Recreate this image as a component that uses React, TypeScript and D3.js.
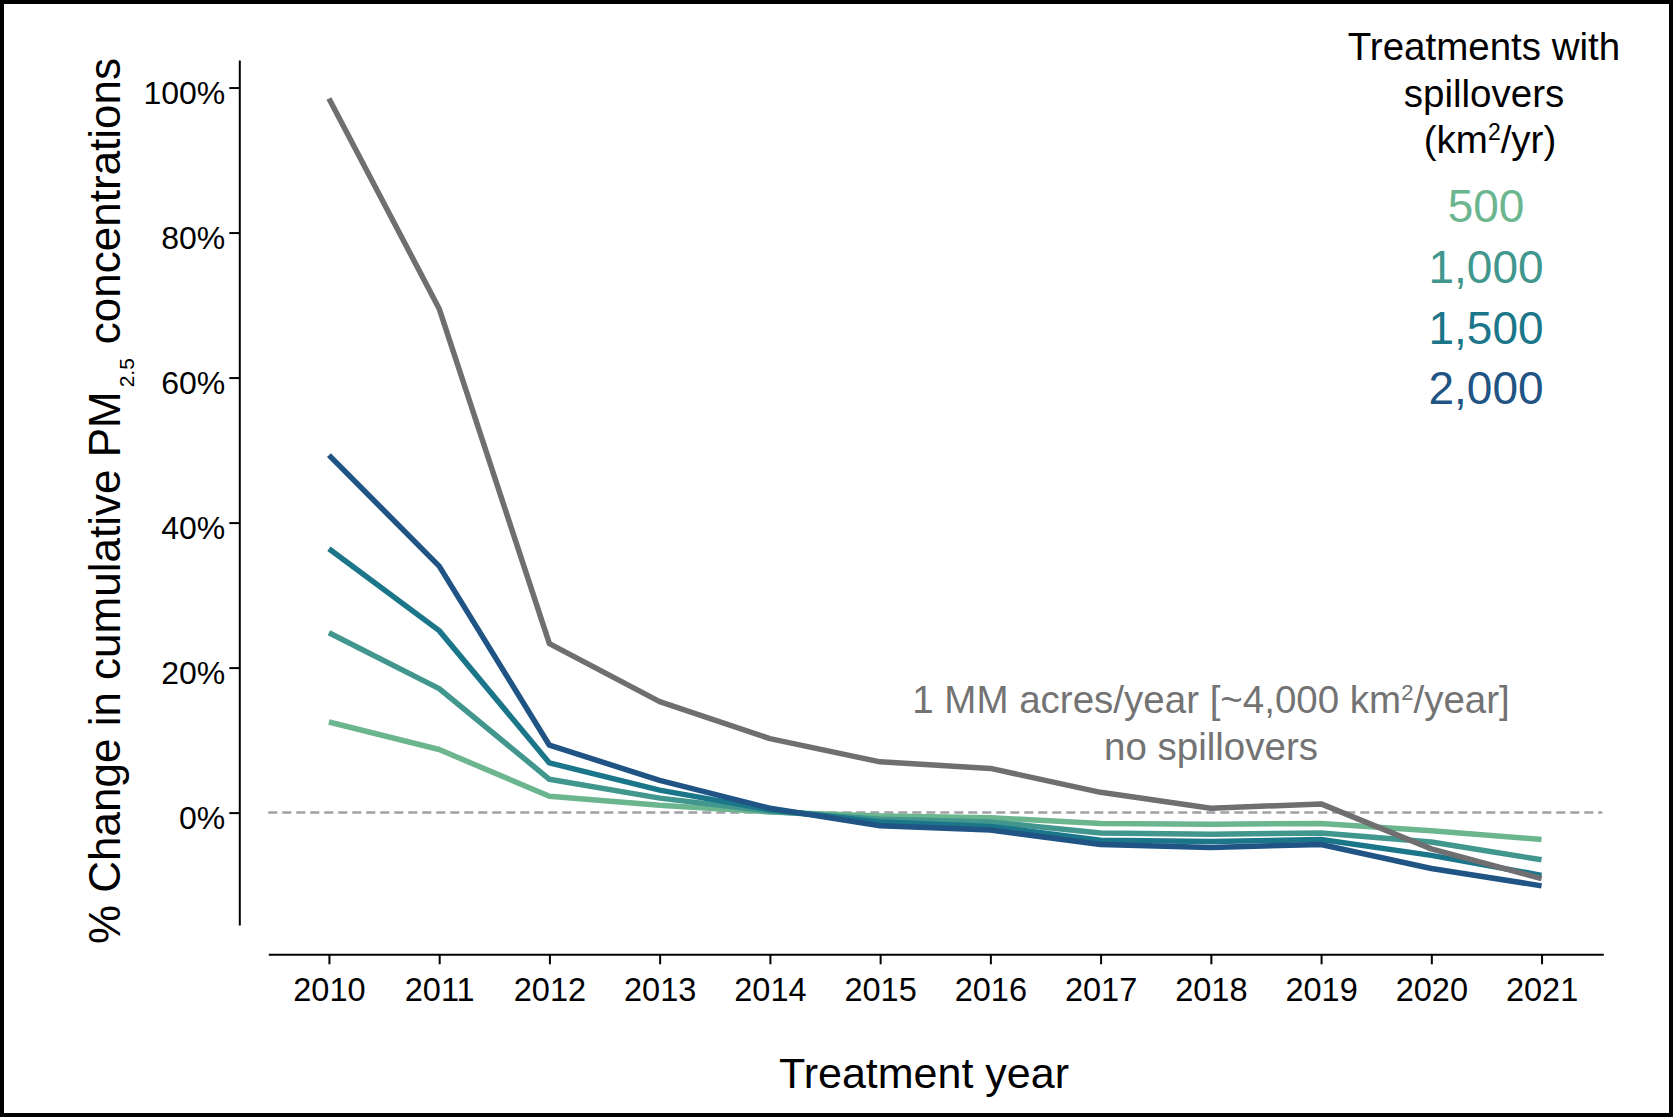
import * as d3 from 'd3';
import { useEffect, useRef } from 'react';

// treatment years on the x axis
const years = [2010, 2011, 2012, 2013, 2014, 2015, 2016, 2017, 2018, 2019, 2020, 2021];

// % change in cumulative PM2.5
const spill500 = [12.5, 8.7, 2.25, 1.0, 0.1, -0.45, -0.7, -1.5, -1.6, -1.5, -2.5, -3.7];
const spill1000 = [24.8, 17.1, 4.6, 2.0, 0.2, -0.9, -1.3, -2.8, -3.0, -2.8, -4.05, -6.5];
const spill1500 = [36.4, 25.1, 6.85, 3.1, 0.4, -1.3, -1.9, -3.8, -4.0, -3.7, -5.9, -8.65];
const spill2000 = [49.3, 34.0, 9.3, 4.45, 0.6, -1.8, -2.4, -4.4, -4.8, -4.4, -7.7, -10.1];
const noSpill = [98.5, 69.5, 23.3, 15.3, 10.2, 7.0, 6.1, 2.8, 0.6, 1.2, -5.0, -9.1];

const legendLabels = ['500', '1,000', '1,500', '2,000'];
const legendColors = ['#6bb58f', '#41968e', '#1b7689', '#1f5484'];
const yTicks = [0, 20, 40, 60, 80, 100];

const FONT = '"Liberation Sans", Arial, Helvetica, sans-serif';

export default function App() {
    const ref = useRef<any>(null);

    useEffect(() => {
        const width = 1673;
        const height = 1117;
        const svg = d3.select<any, any>(ref.current)
            .attr('width', width)
            .attr('height', height);
        svg.selectAll('*').remove();

        svg.append('rect')
            .attr('x', 0).attr('y', 0)
            .attr('width', width).attr('height', height)
            .attr('fill', 'white');

        const xScale = d3.scaleLinear().domain([2009.45, 2021.56]).range([268.3, 1603.3]);
        const yScale = d3.scaleLinear().domain([-15.5, 103.8]).range([925, 60]);

        // y axis
        const yAxis = d3.axisLeft(yScale)
            .tickValues(yTicks)
            .tickSize(10)
            .tickSizeOuter(0)
            .tickPadding(4)
            .tickFormat((d: any) => `${d}%`);
        svg.append('g')
            .attr('transform', `translate(${xScale.range()[0] - 29}, 0)`)
            .call(yAxis)
            .call((g) => {
                g.select('.domain').attr('stroke', '#000').attr('stroke-width', 2);
                g.selectAll('.tick line').attr('stroke', '#000').attr('stroke-width', 2);
                g.selectAll('.tick text')
                    .attr('dy', 16)
                    .attr('fill', '#000')
                    .style('font-family', FONT)
                    .style('font-size', '32px');
            });

        // x axis
        const xAxis = d3.axisBottom(xScale)
            .tickValues(years)
            .tickSize(10)
            .tickSizeOuter(0)
            .tickFormat((d: any) => `${d}`);
        svg.append('g')
            .attr('transform', `translate(0, ${yScale.range()[0] + 29.3})`)
            .call(xAxis)
            .call((g) => {
                g.select('.domain').attr('stroke', '#000').attr('stroke-width', 2);
                g.selectAll('.tick line').attr('stroke', '#000').attr('stroke-width', 2);
                g.selectAll('.tick text')
                    .attr('y', 47)
                    .attr('dy', 0)
                    .attr('fill', '#000')
                    .style('font-family', FONT)
                    .style('font-size', '32.5px');
            });

        // zero reference line
        svg.append('line')
            .attr('x1', xScale.range()[0])
            .attr('x2', xScale.range()[1] - 1)
            .attr('y1', yScale(0))
            .attr('y2', yScale(0))
            .attr('stroke', '#a0a0a5')
            .attr('stroke-width', 2.5)
            .attr('stroke-dasharray', '9,5');

        const line = d3.line<number>()
            .x((d, i) => xScale(years[i]))
            .y((d) => yScale(d));

        const series = [spill500, spill1000, spill1500, spill2000];
        series.forEach((s, i) => {
            svg.append('path')
                .datum(s)
                .attr('d', line)
                .attr('fill', 'none')
                .attr('stroke', legendColors[i])
                .attr('stroke-width', 5.5)
                .attr('stroke-linejoin', 'round');
        });
        svg.append('path')
            .datum(noSpill)
            .attr('d', line)
            .attr('fill', 'none')
            .attr('stroke', '#6f6f71')
            .attr('stroke-width', 5.5)
            .attr('stroke-linejoin', 'round');

        // axis titles
        svg.append('text')
            .attr('x', 924)
            .attr('y', 1088)
            .attr('text-anchor', 'middle')
            .style('font-family', FONT)
            .style('font-size', '43px')
            .attr('fill', '#000')
            .text('Treatment year');

        const yTitle = svg.append('text')
            .attr('transform', 'translate(120, 501) rotate(-90)')
            .attr('text-anchor', 'middle')
            .style('font-family', FONT)
            .style('font-size', '44px')
            .attr('fill', '#000');
        yTitle.append('tspan').text('% Change in cumulative PM');
        yTitle.append('tspan').attr('dy', 14).attr('dx', 4).style('font-size', '21px').text('2.5');
        yTitle.append('tspan').attr('dy', -14).attr('dx', 14).text('concentrations');

        // legend
        const legendTitle = ['Treatments with', 'spillovers'];
        legendTitle.forEach((t, i) => {
            svg.append('text')
                .attr('x', 1484)
                .attr('y', 60 + i * 46.5)
                .attr('text-anchor', 'middle')
                .style('font-family', FONT)
                .style('font-size', '38.5px')
                .attr('fill', '#000')
                .text(t);
        });
        const unit = svg.append('text')
            .attr('x', 1490)
            .attr('y', 153)
            .attr('text-anchor', 'middle')
            .style('font-family', FONT)
            .style('font-size', '38.5px')
            .attr('fill', '#000');
        unit.append('tspan').text('(km');
        unit.append('tspan').attr('dy', -13).style('font-size', '23px').text('2');
        unit.append('tspan').attr('dy', 13).text('/yr)');

        legendLabels.forEach((l, i) => {
            svg.append('text')
                .attr('x', 1486)
                .attr('y', 221.7 + i * 60.9)
                .attr('text-anchor', 'middle')
                .style('font-family', FONT)
                .style('font-size', '46px')
                .attr('fill', legendColors[i])
                .text(l);
        });

        // annotation for the no-spillover line
        const ann = svg.append('text')
            .attr('x', 1211)
            .attr('y', 713)
            .attr('text-anchor', 'middle')
            .style('font-family', FONT)
            .style('font-size', '38.5px')
            .attr('fill', '#737373');
        ann.append('tspan').text('1 MM acres/year [~4,000 km');
        ann.append('tspan').attr('dy', -13).style('font-size', '22px').text('2');
        ann.append('tspan').attr('dy', 13).text('/year]');
        svg.append('text')
            .attr('x', 1211)
            .attr('y', 760)
            .attr('text-anchor', 'middle')
            .style('font-family', FONT)
            .style('font-size', '38.5px')
            .attr('fill', '#737373')
            .text('no spillovers');

        // frame
        svg.append('rect')
            .attr('x', 1.5).attr('y', 1.5)
            .attr('width', width - 3).attr('height', height - 3)
            .attr('fill', 'none')
            .attr('stroke', '#000')
            .attr('stroke-width', 5);
    }, []);

    return (
        <svg ref={ref} style={{ position: 'absolute', left: 0, top: 0, display: 'block' }}></svg>
    );
}
